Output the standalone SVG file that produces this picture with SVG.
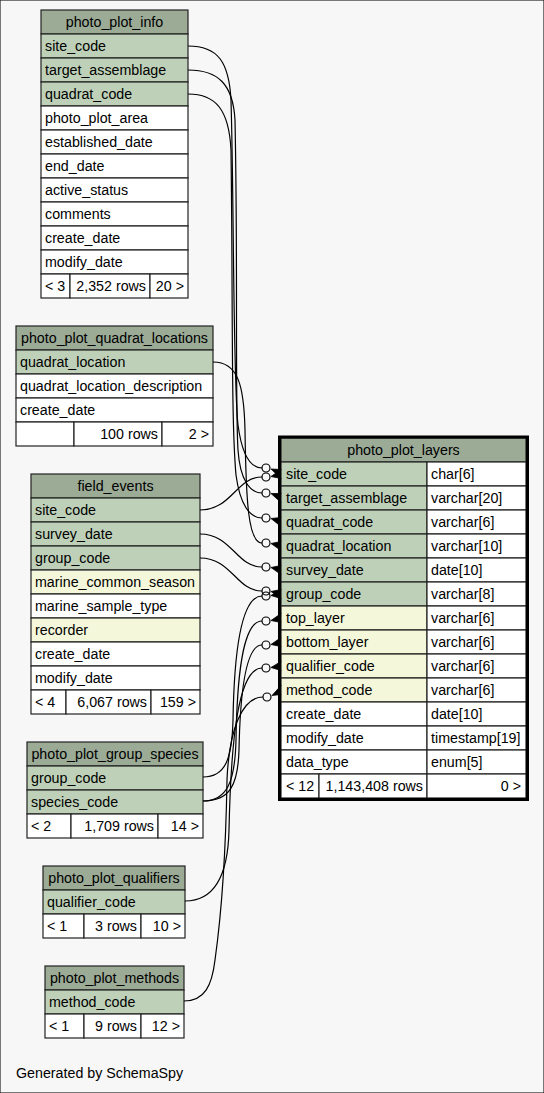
<svg xmlns="http://www.w3.org/2000/svg" width="544" height="1093" viewBox="0 0 544 1093">
<style>
text{font-family:"Liberation Sans",Arial,sans-serif;font-size:14.25px;fill:#000}
.c{text-anchor:middle}
.r{text-anchor:end}
rect{stroke:#222;stroke-width:1.2}
.h{fill:#9bab96}
.k{fill:#bed1b8}
.y{fill:#f4f7da}
.w{fill:#fff}
.e path{fill:none;stroke:#000;stroke-width:1.2}
.e circle{fill:none;stroke:#000;stroke-width:1.2}
.e polygon{fill:#000;stroke:#000;stroke-width:0.8}
</style>
<rect x="0" y="0" width="544" height="1093" fill="#f7f7f7" stroke="none"/>

<g id="photo_plot_info">
<rect class="h" x="41" y="10" width="147" height="24"/><text class="c" x="114.5" y="27">photo_plot_info</text>
<rect class="k" x="41" y="34" width="147" height="24"/><text x="45" y="51">site_code</text>
<rect class="k" x="41" y="58" width="147" height="24"/><text x="45" y="75">target_assemblage</text>
<rect class="k" x="41" y="82" width="147" height="24"/><text x="45" y="99">quadrat_code</text>
<rect class="w" x="41" y="106" width="147" height="24"/><text x="45" y="123">photo_plot_area</text>
<rect class="w" x="41" y="130" width="147" height="24"/><text x="45" y="147">established_date</text>
<rect class="w" x="41" y="154" width="147" height="24"/><text x="45" y="171">end_date</text>
<rect class="w" x="41" y="178" width="147" height="24"/><text x="45" y="195">active_status</text>
<rect class="w" x="41" y="202" width="147" height="24"/><text x="45" y="219">comments</text>
<rect class="w" x="41" y="226" width="147" height="24"/><text x="45" y="243">create_date</text>
<rect class="w" x="41" y="250" width="147" height="24"/><text x="45" y="267">modify_date</text>
<rect class="w" x="41" y="274" width="29" height="24"/><text x="45" y="291">&lt; 3</text>
<rect class="w" x="70" y="274" width="80" height="24"/><text class="r" x="146" y="291">2,352 rows</text>
<rect class="w" x="150" y="274" width="38" height="24"/><text class="r" x="184" y="291">20 &gt;</text>
</g>

<g id="photo_plot_quadrat_locations">
<rect class="h" x="16" y="326" width="197" height="24"/><text class="c" x="114.5" y="343">photo_plot_quadrat_locations</text>
<rect class="k" x="16" y="350" width="197" height="24"/><text x="20" y="367">quadrat_location</text>
<rect class="w" x="16" y="374" width="197" height="24"/><text x="20" y="391">quadrat_location_description</text>
<rect class="w" x="16" y="398" width="197" height="24"/><text x="20" y="415">create_date</text>
<rect class="w" x="16" y="422" width="58" height="24"/>
<rect class="w" x="74" y="422" width="88" height="24"/><text class="r" x="158" y="439">100 rows</text>
<rect class="w" x="162" y="422" width="51" height="24"/><text class="r" x="209" y="439">2 &gt;</text>
</g>

<g id="field_events">
<rect class="h" x="31" y="474" width="169" height="24"/><text class="c" x="115.5" y="491">field_events</text>
<rect class="k" x="31" y="498" width="169" height="24"/><text x="35" y="515">site_code</text>
<rect class="k" x="31" y="522" width="169" height="24"/><text x="35" y="539">survey_date</text>
<rect class="k" x="31" y="546" width="169" height="24"/><text x="35" y="563">group_code</text>
<rect class="y" x="31" y="570" width="169" height="24"/><text x="35" y="587">marine_common_season</text>
<rect class="w" x="31" y="594" width="169" height="24"/><text x="35" y="611">marine_sample_type</text>
<rect class="y" x="31" y="618" width="169" height="24"/><text x="35" y="635">recorder</text>
<rect class="w" x="31" y="642" width="169" height="24"/><text x="35" y="659">create_date</text>
<rect class="w" x="31" y="666" width="169" height="24"/><text x="35" y="683">modify_date</text>
<rect class="w" x="31" y="690" width="35" height="24"/><text x="35" y="707">&lt; 4</text>
<rect class="w" x="66" y="690" width="85" height="24"/><text class="r" x="147" y="707">6,067 rows</text>
<rect class="w" x="151" y="690" width="49" height="24"/><text class="r" x="196" y="707">159 &gt;</text>
</g>

<g id="photo_plot_group_species">
<rect class="h" x="27" y="742" width="176" height="24"/><text class="c" x="115" y="759">photo_plot_group_species</text>
<rect class="k" x="27" y="766" width="176" height="24"/><text x="31" y="783">group_code</text>
<rect class="k" x="27" y="790" width="176" height="24"/><text x="31" y="807">species_code</text>
<rect class="w" x="27" y="814" width="44" height="24"/><text x="31" y="831">&lt; 2</text>
<rect class="w" x="71" y="814" width="87" height="24"/><text class="r" x="154" y="831">1,709 rows</text>
<rect class="w" x="158" y="814" width="45" height="24"/><text class="r" x="199" y="831">14 &gt;</text>
</g>

<g id="photo_plot_qualifiers">
<rect class="h" x="43" y="866" width="142" height="24"/><text class="c" x="114" y="883">photo_plot_qualifiers</text>
<rect class="k" x="43" y="890" width="142" height="24"/><text x="47" y="907">qualifier_code</text>
<rect class="w" x="43" y="914" width="41" height="24"/><text x="47" y="931">&lt; 1</text>
<rect class="w" x="84" y="914" width="57" height="24"/><text class="r" x="137" y="931">3 rows</text>
<rect class="w" x="141" y="914" width="44" height="24"/><text class="r" x="181" y="931">10 &gt;</text>
</g>

<g id="photo_plot_methods">
<rect class="h" x="45" y="966" width="139" height="24"/><text class="c" x="114.5" y="983">photo_plot_methods</text>
<rect class="k" x="45" y="990" width="139" height="24"/><text x="49" y="1007">method_code</text>
<rect class="w" x="45" y="1014" width="39" height="24"/><text x="49" y="1031">&lt; 1</text>
<rect class="w" x="84" y="1014" width="57" height="24"/><text class="r" x="137" y="1031">9 rows</text>
<rect class="w" x="141" y="1014" width="43" height="24"/><text class="r" x="180" y="1031">12 &gt;</text>
</g>

<g id="photo_plot_layers">
<rect class="h" x="281" y="438" width="245" height="24"/><text class="c" x="403.5" y="455">photo_plot_layers</text>
<rect class="k" x="281" y="462" width="146" height="24"/><text x="286" y="479">site_code</text>
<rect class="w" x="427" y="462" width="99" height="24"/><text x="431" y="479">char[6]</text>
<rect class="k" x="281" y="486" width="146" height="24"/><text x="286" y="503">target_assemblage</text>
<rect class="w" x="427" y="486" width="99" height="24"/><text x="431" y="503">varchar[20]</text>
<rect class="k" x="281" y="510" width="146" height="24"/><text x="286" y="527">quadrat_code</text>
<rect class="w" x="427" y="510" width="99" height="24"/><text x="431" y="527">varchar[6]</text>
<rect class="k" x="281" y="534" width="146" height="24"/><text x="286" y="551">quadrat_location</text>
<rect class="w" x="427" y="534" width="99" height="24"/><text x="431" y="551">varchar[10]</text>
<rect class="k" x="281" y="558" width="146" height="24"/><text x="286" y="575">survey_date</text>
<rect class="w" x="427" y="558" width="99" height="24"/><text x="431" y="575">date[10]</text>
<rect class="k" x="281" y="582" width="146" height="24"/><text x="286" y="599">group_code</text>
<rect class="w" x="427" y="582" width="99" height="24"/><text x="431" y="599">varchar[8]</text>
<rect class="y" x="281" y="606" width="146" height="24"/><text x="286" y="623">top_layer</text>
<rect class="w" x="427" y="606" width="99" height="24"/><text x="431" y="623">varchar[6]</text>
<rect class="y" x="281" y="630" width="146" height="24"/><text x="286" y="647">bottom_layer</text>
<rect class="w" x="427" y="630" width="99" height="24"/><text x="431" y="647">varchar[6]</text>
<rect class="y" x="281" y="654" width="146" height="24"/><text x="286" y="671">qualifier_code</text>
<rect class="w" x="427" y="654" width="99" height="24"/><text x="431" y="671">varchar[6]</text>
<rect class="y" x="281" y="678" width="146" height="24"/><text x="286" y="695">method_code</text>
<rect class="w" x="427" y="678" width="99" height="24"/><text x="431" y="695">varchar[6]</text>
<rect class="w" x="281" y="702" width="146" height="24"/><text x="286" y="719">create_date</text>
<rect class="w" x="427" y="702" width="99" height="24"/><text x="431" y="719">date[10]</text>
<rect class="w" x="281" y="726" width="146" height="24"/><text x="286" y="743">modify_date</text>
<rect class="w" x="427" y="726" width="99" height="24"/><text x="431" y="743">timestamp[19]</text>
<rect class="w" x="281" y="750" width="146" height="24"/><text x="286" y="767">data_type</text>
<rect class="w" x="427" y="750" width="99" height="24"/><text x="431" y="767">enum[5]</text>
<rect class="w" x="281" y="774" width="38" height="24"/><text x="286" y="791">&lt; 12</text>
<rect class="w" x="319" y="774" width="108" height="24"/><text class="r" x="423" y="791">1,143,408 rows</text>
<rect class="w" x="427" y="774" width="99" height="24"/><text class="r" x="521" y="791">0 &gt;</text>
<rect x="279.5" y="437" width="248" height="362.5" fill="none" style="stroke:#000;stroke-width:3"/>
</g>

<g id="connectors" class="e">
<path d="M188,46 C218,46 229,62 231,100 C234,200 233,380 238,425 C242,455 250,468 262,468"/>
<circle cx="266" cy="468" r="4"/><polygon points="271,469 281,469.5 278,474 281,478.5"/>
<path d="M200,510 C232,510 236,477 262,477"/>
<circle cx="266" cy="477" r="4"/><polygon points="271,476.5 281,469.5 278,474 281,478.5"/>
<path d="M188,70 C218,70 233,84 235,120 C238,260 235,400 238,450 C240,480 250,493 262,493"/>
<circle cx="266" cy="493" r="4"/><polygon points="271,493.5 281,493.5 278,498 281,502.5"/>
<path d="M188,94 C216,94 229,110 231,150 C233,300 231,420 236,475 C240,505 250,518 262,518"/>
<circle cx="266" cy="518" r="4"/><polygon points="271,518.5 281,517.5 278,522 281,526.5"/>
<path d="M213,362 C238,362 244,385 245,430 C246,500 248,543 262,543"/>
<circle cx="266" cy="543" r="4"/><polygon points="271,543.5 281,541.5 278,546 281,550.5"/>
<path d="M200,534 C232,534 236,567 262,567"/>
<circle cx="266" cy="567" r="4"/><polygon points="271,567.5 281,565.5 278,570 281,574.5"/>
<path d="M200,558 C232,558 236,591 262,591"/>
<circle cx="266" cy="591" r="4"/><polygon points="271,591.5 281,589.5 278,594 281,598.5"/>
<path d="M203,777 C225,777 232,760 233,720 C234,660 240,596 262,596"/>
<circle cx="266" cy="596" r="4"/><polygon points="271,595.5 281,589.5 278,594 281,598.5"/>
<path d="M203,801 C228,801 235,780 236,740 C237,680 242,621 262,621"/>
<circle cx="266" cy="621" r="4"/><polygon points="271,620.5 281,613.5 278,618 281,622.5"/>
<path d="M203,801 C230,801 238,785 239,750 C240,700 245,645 262,645"/>
<circle cx="266" cy="645" r="4"/><polygon points="271,644.5 281,637.5 278,642 281,646.5"/>
<path d="M185,901 C215,901 228,875 229,830 C231,740 238,668 262,668"/>
<circle cx="266" cy="668" r="4"/><polygon points="271,667.5 281,661.5 278,666 281,670.5"/>
<path d="M184,1001 C205,1001 212,985 215,960 C222,910 226,840 227,780 C229,730 242,697 263,697"/>
<circle cx="267" cy="697" r="4"/><polygon points="272,695.5 281,685.5 278,690 281,694.5"/>
</g>

<text x="16" y="1078">Generated by SchemaSpy</text>
</svg>
